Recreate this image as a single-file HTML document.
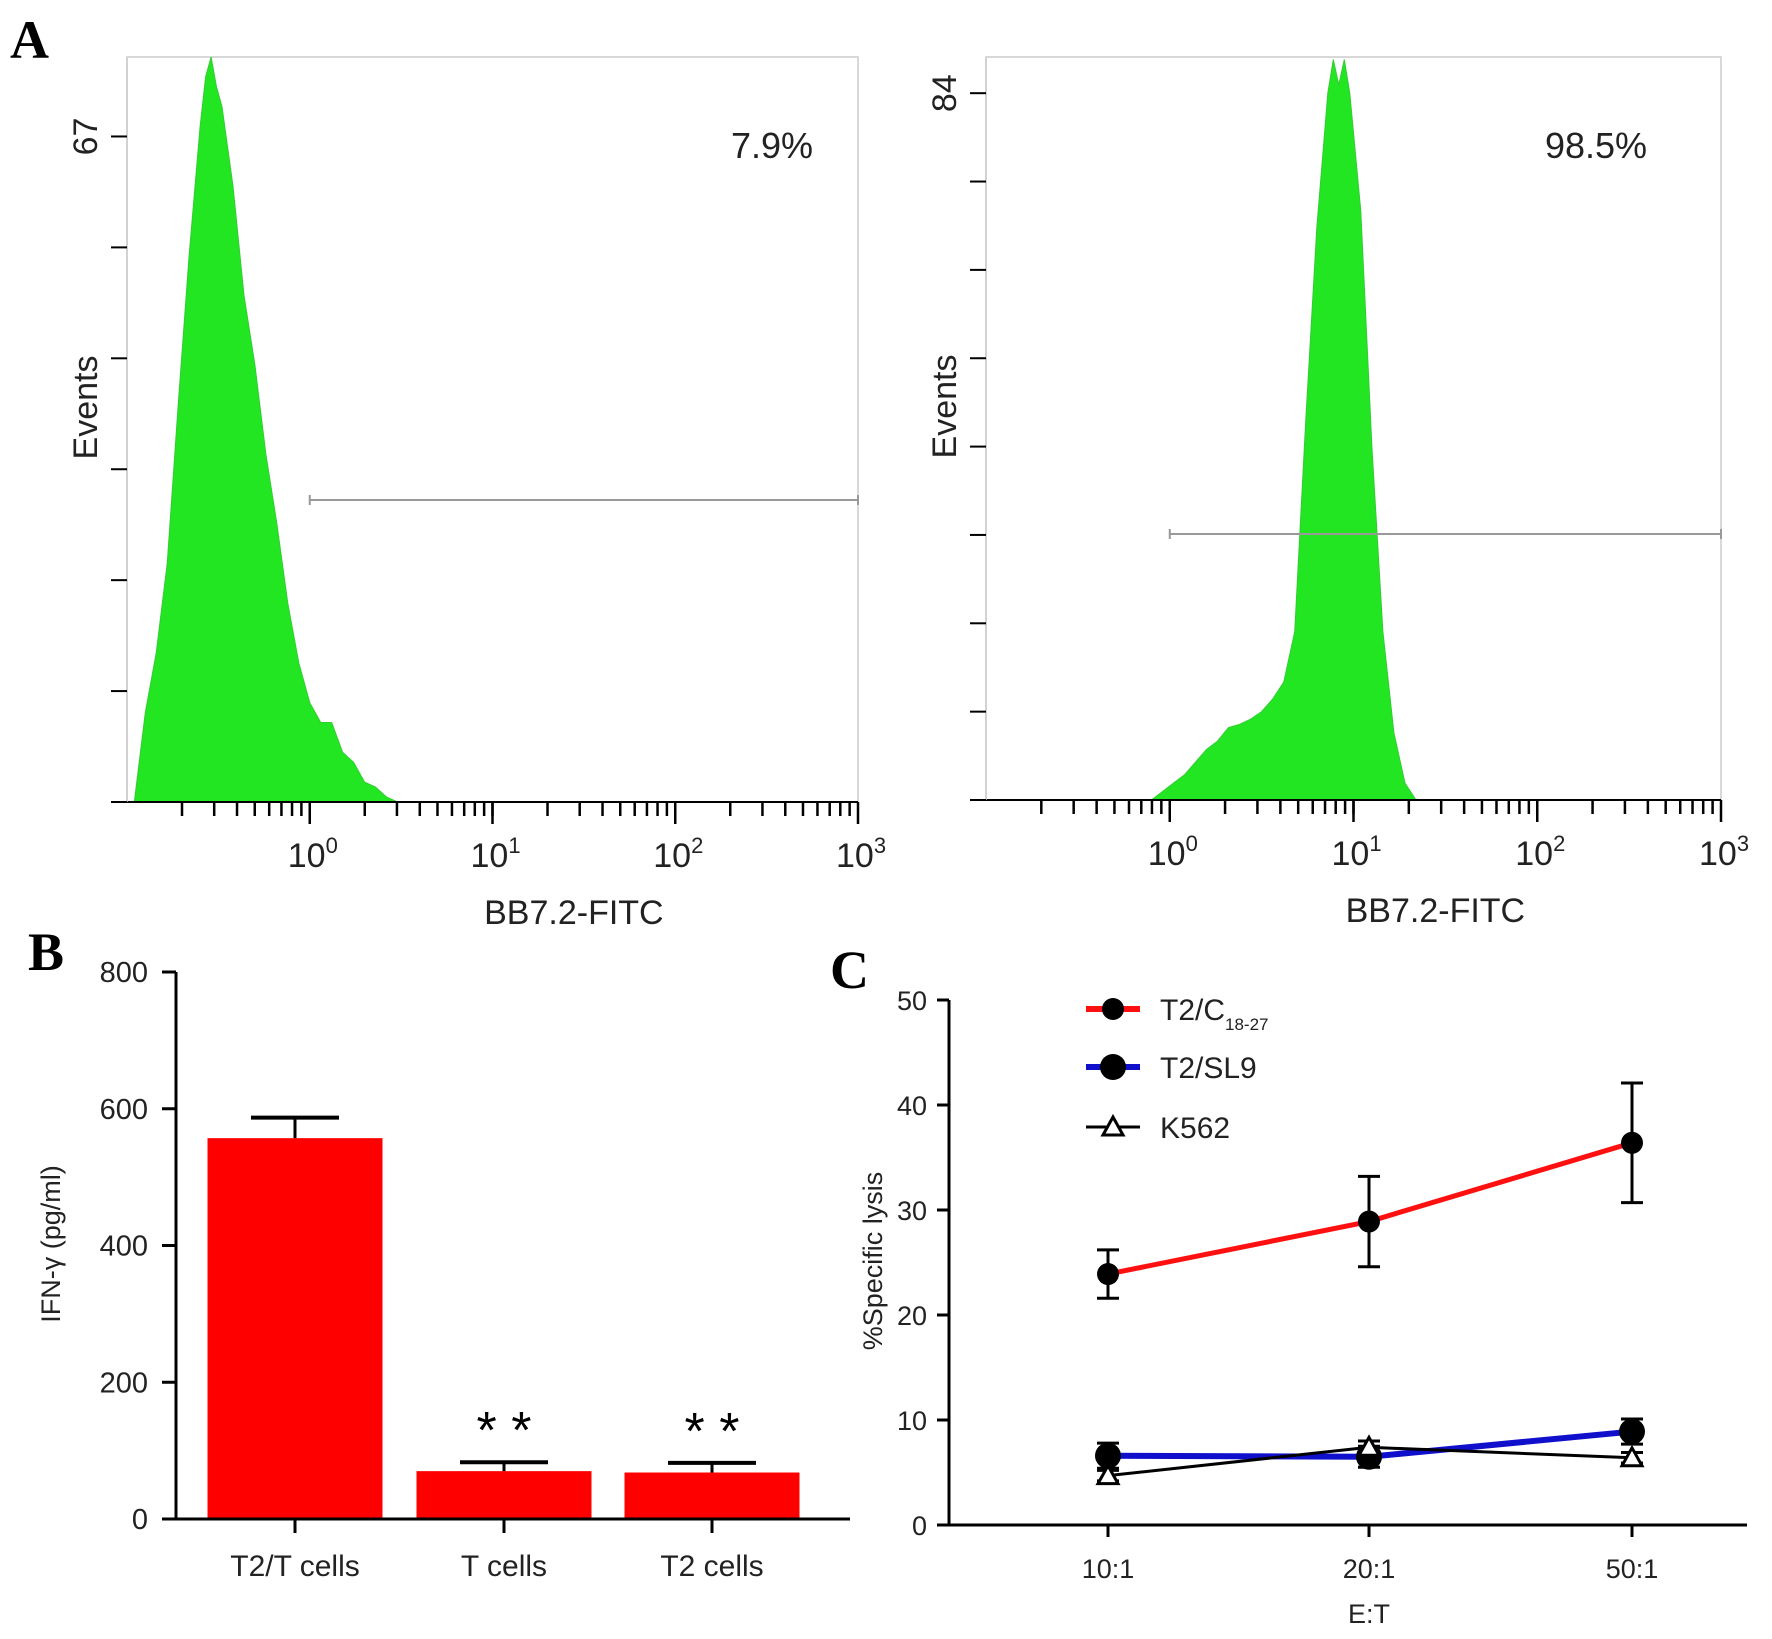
<!DOCTYPE html>
<html><head><meta charset="utf-8"><style>
html,body{margin:0;padding:0;background:#fff;}
svg{display:block;font-family:"Liberation Sans",sans-serif;}
</style></head><body>
<svg id="fig" width="1772" height="1639" viewBox="0 0 1772 1639">
<g id="panelA1"></g>
<g id="panelA2"></g>
<g id="panelB"></g>
<g id="panelC"></g>
<text x="10" y="58" font-family="Liberation Serif" font-weight="bold" font-size="54">A</text>
<text x="28" y="970" font-family="Liberation Serif" font-weight="bold" font-size="54">B</text>
<text x="830" y="988" font-family="Liberation Serif" font-weight="bold" font-size="54">C</text>
</svg>
<script>
// ---- Panel A data ----
const histLeftLog = [-0.96,-0.90,-0.84,-0.78,-0.72,-0.66,-0.60,-0.57,-0.54,-0.51,-0.48,-0.45,-0.42,-0.36,-0.30,-0.24,-0.18,-0.12,-0.06,0.00,0.06,0.12,0.18,0.24,0.30,0.36,0.42,0.48];
const histLeftCounts = [0,9,15,24,40,55,68,73,75,72,70,66,62,51,44,35,28,20,14,10,8,8,5,4,2,1.5,0.5,0];
const histRightLog = [-0.10,-0.04,0.02,0.08,0.14,0.20,0.26,0.32,0.38,0.44,0.50,0.56,0.62,0.68,0.74,0.80,0.86,0.89,0.92,0.95,0.98,1.04,1.10,1.16,1.22,1.28,1.34];
const histRightCounts = [0,1,2,3,4.5,6,7,8.6,9,9.6,10.5,12,14,20,45,68,84,88,85,88,84,70,42,20,8,2,0];
const decadeLabels = ["0","1","2","3"];
const percentLeft = "7.9%";
const percentRight = "98.5%";

// ---- Panel B data ----
const barCategories = ["T2/T cells","T cells","T2 cells"];
const barValues = [557,70,68];
const barErrors = [30,13,14];
const barStars = ["","**","**"];
const barTicks = [0,200,400,600,800];

// ---- Panel C data ----
const lysisCategories = ["10:1","20:1","50:1"];
const lysisT2C = [23.9,28.9,36.4];
const lysisT2CErr = [2.3,4.3,5.7];
const lysisT2SL9 = [6.6,6.5,8.9];
const lysisT2SL9Err = [1.2,1.0,1.2];
const lysisK562 = [4.7,7.4,6.4];
const lysisK562Err = [0.5,0.6,0.5];
const lysisTicks = [0,10,20,30,40,50];

const NS="http://www.w3.org/2000/svg";
function mk(parent,tag,attrs,text){const e=document.createElementNS(NS,tag);for(const k in attrs)e.setAttribute(k,attrs[k]);if(text!==undefined)e.textContent=text;parent.appendChild(e);return e;}

function histPanel(g,box,ymax,yTickVal,yTickCount,logs,counts,gateY,pct,pctX){
  const xs=l=>box.x0+(l+1)/4*(box.x1-box.x0);
  const ys=v=>box.y1-v/ymax*(box.y1-box.y0);
  const frame=mk(g,'rect',{x:box.x0,y:box.y0,width:box.x1-box.x0,height:box.y1-box.y0,fill:'none',stroke:'#ccc','stroke-width':1.5});
  
  
  let d='M'+xs(logs[0])+','+ys(0);
  for(let i=0;i<logs.length;i++)d+=' L'+xs(logs[i]).toFixed(1)+','+ys(counts[i]).toFixed(1);
  d+=' L'+xs(logs[logs.length-1])+','+ys(0)+'Z';
  const p=mk(g,'path',{d:d,fill:'#22e622',stroke:'#33cc33','stroke-width':1});
  
  
  // axes
  mk(g,'line',{x1:box.x0,y1:box.y1,x2:box.x1,y2:box.y1,stroke:'#000','stroke-width':2});
  mk(g,'line',{x1:box.x0,y1:box.y0,x2:box.x0,y2:box.y1,stroke:'#ccc','stroke-width':1.5});
  for(let dcd=-1;dcd<3;dcd++){for(let m=1;m<=10;m++){const l=dcd+Math.log10(m);if(l<=-0.75&&m!==10)continue;const x=xs(l);const major=(m===10);mk(g,'line',{x1:x,y1:box.y1,x2:x,y2:box.y1+(major?22:14),stroke:'#000','stroke-width':2.5});}}
  decadeLabels.forEach((t,i)=>{const x=xs(i);const tx=mk(g,'text',{x:x-22,y:box.y1+65,'font-size':34,fill:'#222'});mk(tx,'tspan',{},'10');mk(tx,'tspan',{dy:-14,'font-size':22},t);});
  for(let i=0;i<=yTickCount;i++){const v=yTickVal*i/yTickCount;const y=ys(v);mk(g,'line',{x1:box.x0-16,y1:y,x2:box.x0,y2:y,stroke:'#000','stroke-width':2});}
  const yl=mk(g,'text',{x:0,y:0,'font-size':34,fill:'#222',transform:`translate(${box.x0-30},${ys(yTickVal)}) rotate(-90)`,'text-anchor':'middle'},String(yTickVal));
  
  const ev=mk(g,'text',{x:0,y:0,'font-size':34,fill:'#222',transform:`translate(${box.x0-30},${(box.y0+box.y1)/2-22}) rotate(-90)`,'text-anchor':'middle'},'Events');
  
  const xt=mk(g,'text',{x:(xs(0)+xs(3))/2-10,y:box.y1+122,'font-size':34,fill:'#222','text-anchor':'middle'},'BB7.2-FITC');
  
  const gate=mk(g,'path',{d:`M${xs(0)},${gateY} L${xs(3)},${gateY} M${xs(0)},${gateY-5} L${xs(0)},${gateY+5} M${xs(3)},${gateY-5} L${xs(3)},${gateY+5}`,stroke:'#999','stroke-width':2,fill:'none'});
  
  const pt=mk(g,'text',{x:pctX,y:158,'font-size':36,fill:'#222','text-anchor':'middle'},pct);
  
}
histPanel(document.getElementById('panelA1'),{x0:127,x1:858,y0:57,y1:802},75,67,6,histLeftLog,histLeftCounts,500,percentLeft,772);
histPanel(document.getElementById('panelA2'),{x0:986,x1:1721,y0:57,y1:800},88.3,84,8,histRightLog,histRightCounts,534,percentRight,1596);

// ---- Panel B ----
(function(){
  const g=document.getElementById('panelB');
  const X0=176,Y0=1519,Y1=972;
  const ys=v=>Y0-v/800*(Y0-Y1);
  const centers=[295,504,712],bw=175;
  barValues.forEach((v,i)=>{
    const r=mk(g,'rect',{x:centers[i]-bw/2,y:ys(v),width:bw,height:Y0-ys(v),fill:'#ff0000'});
    
    
    const top=ys(v+barErrors[i]);
    mk(g,'line',{x1:centers[i],y1:ys(v),x2:centers[i],y2:top,stroke:'#000','stroke-width':3});
    mk(g,'line',{x1:centers[i]-44,y1:top,x2:centers[i]+44,y2:top,stroke:'#000','stroke-width':4});
    if(barStars[i]){const s=mk(g,'text',{x:centers[i],y:top-14,'font-size':52,'text-anchor':'middle',fill:'#000'},barStars[i].split('').join(' '));}
    mk(g,'line',{x1:centers[i],y1:Y0,x2:centers[i],y2:Y0+14,stroke:'#000','stroke-width':3});
    const t=mk(g,'text',{x:centers[i],y:1576,'font-size':30,'text-anchor':'middle',fill:'#222'},barCategories[i]);
    
  });
  mk(g,'line',{x1:X0,y1:Y1,x2:X0,y2:Y0,stroke:'#000','stroke-width':3});
  mk(g,'line',{x1:165,y1:Y0,x2:850,y2:Y0,stroke:'#000','stroke-width':3});
  barTicks.forEach(v=>{mk(g,'line',{x1:X0-14,y1:ys(v),x2:X0,y2:ys(v),stroke:'#000','stroke-width':3});
    const t=mk(g,'text',{x:X0-28,y:ys(v)+10,'font-size':29,'text-anchor':'end',fill:'#222'},String(v));});
  const yt=mk(g,'text',{x:0,y:0,'font-size':27,'text-anchor':'middle',fill:'#222',transform:'translate(60,1244) rotate(-90)'},'IFN-γ (pg/ml)');
  
})();

// ---- Panel C ----
(function(){
  const g=document.getElementById('panelC');
  const X0=949,X1=1747,Y0=1525,Y1=1000;
  const ys=v=>Y0-v/50*(Y0-Y1);
  const xs=[1108,1369,1632];
  mk(g,'line',{x1:X0,y1:Y1,x2:X0,y2:Y0,stroke:'#000','stroke-width':3});
  mk(g,'line',{x1:X0,y1:Y0,x2:X1,y2:Y0,stroke:'#000','stroke-width':3});
  lysisTicks.forEach(v=>{mk(g,'line',{x1:X0-12,y1:ys(v),x2:X0,y2:ys(v),stroke:'#000','stroke-width':3});
    const t=mk(g,'text',{x:X0-22,y:ys(v)+10,'font-size':27,'text-anchor':'end',fill:'#222'},String(v));});
  lysisCategories.forEach((c,i)=>{mk(g,'line',{x1:xs[i],y1:Y0,x2:xs[i],y2:Y0+12,stroke:'#000','stroke-width':3});
    const t=mk(g,'text',{x:xs[i],y:1578,'font-size':27,'text-anchor':'middle',fill:'#222'},c);});
  const xt=mk(g,'text',{x:1369,y:1623,'font-size':27,'text-anchor':'middle',fill:'#222'},'E:T');
  const yt=mk(g,'text',{x:0,y:0,'font-size':27,'text-anchor':'middle',fill:'#222',transform:'translate(882,1261) rotate(-90)'},'%Specific lysis');
  
  function series(vals,errs,color,width,marker,name){
    const sg=mk(g,'g',{});
    mk(sg,'polyline',{points:vals.map((v,i)=>xs[i]+','+ys(v)).join(' '),fill:'none',stroke:color,'stroke-width':width});
    vals.forEach((v,i)=>{const a=ys(v+errs[i]),b=ys(v-errs[i]);
      mk(sg,'path',{d:`M${xs[i]},${a} L${xs[i]},${b} M${xs[i]-11},${a} L${xs[i]+11},${a} M${xs[i]-11},${b} L${xs[i]+11},${b}`,stroke:'#000','stroke-width':3,fill:'none'});
      if(marker==='circle')mk(sg,'circle',{cx:xs[i],cy:ys(v),r:11,fill:'#000'});
      else if(marker==='bigcircle')mk(sg,'circle',{cx:xs[i],cy:ys(v),r:13,fill:'#000'});
      else mk(sg,'path',{d:`M${xs[i]},${ys(v)-10} L${xs[i]+10},${ys(v)+8} L${xs[i]-10},${ys(v)+8}Z`,fill:'#fff',stroke:'#000','stroke-width':3});
    });
  }
  series(lysisT2SL9,lysisT2SL9Err,'#1010cc',6,'bigcircle','series-t2-sl9');
  series(lysisK562,lysisK562Err,'#000',3,'triangle','series-k562');
  series(lysisT2C,lysisT2CErr,'#ff1010',5,'circle','series-t2-c18-27');
  // legend
  const L=[[1009,'#ff1010','circle'],[1067,'#1010cc','bigcircle'],[1127,'#000','triangle']];
  L.forEach(([y,c,m],i)=>{
    const lg=mk(g,'g',{});
    mk(lg,'line',{x1:1086,y1:y,x2:1140,y2:y,stroke:c,'stroke-width':m==='triangle'?3:6});
    if(m==='circle')mk(lg,'circle',{cx:1113,cy:y,r:11,fill:'#000'});
    else if(m==='bigcircle')mk(lg,'circle',{cx:1113,cy:y,r:13,fill:'#000'});
    else mk(lg,'path',{d:`M1113,${y-10} L1123,${y+8} L1103,${y+8}Z`,fill:'#fff',stroke:'#000','stroke-width':3});
    const t=mk(lg,'text',{x:1160,y:y+11,'font-size':30,fill:'#222'});
    if(i===0){t.appendChild(document.createTextNode('T2/C'));mk(t,'tspan',{dy:10,'font-size':17},'18-27');}
    else t.textContent=i===1?'T2/SL9':'K562';
  });
})();
</script>
</body></html>
